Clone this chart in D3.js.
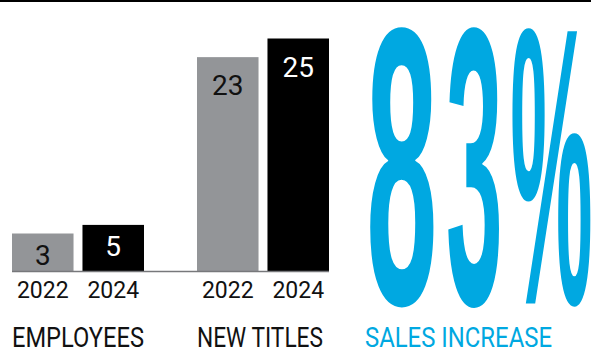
<!DOCTYPE html>
<html><head><meta charset="utf-8">
<script src="https://cdn.jsdelivr.net/npm/d3@7/dist/d3.min.js"></script>
<style>body{margin:0;background:#fff}svg{display:block}</style>
</head><body>
<svg id="c" width="600" height="360"></svg>
<script>
const categories = ["EMPLOYEES", "NEW TITLES"];
const years = ["2022", "2024"];
const employees = [3, 5];
const newTitles = [23, 25];
const salesIncrease = "83%";
const salesLabel = "SALES INCREASE";

const svg = d3.select("#c");
const FONT = "'Liberation Sans Narrow', 'Roboto', 'Liberation Sans', sans-serif";
const GRAY = "#939598", CYAN = "#00a8e1";

svg.append("line").attr("x1", 0).attr("x2", 591).attr("y1", 1).attr("y2", 1)
  .attr("stroke", "#000").attr("stroke-width", 2);

const series = [employees, newTitles];
const x0 = d3.scaleBand().domain(categories).range([12, 329]).paddingInner(0.2865);
const x1 = d3.scaleBand().domain(years).range([0, x0.bandwidth()]).paddingInner(0.127);
const baseY = 271.5;
const y = d3.scaleLinear().domain([0, 25]).range([baseY, 38.5]);
const MIN_H = 38; // minimum bar height so the value label fits
const barTop = v => Math.min(y(v), baseY - MIN_H);

const g = svg.append("g").selectAll("g").data(categories).join("g")
  .attr("transform", d => `translate(${x0(d)},0)`);

g.each(function(cat, ci) {
  const grp = d3.select(this);
  const vals = series[ci].map((v, i) => ({year: years[i], v}));
  grp.selectAll("rect").data(vals).join("rect")
    .attr("x", d => x1(d.year)).attr("width", x1.bandwidth())
    .attr("y", d => barTop(d.v)).attr("height", d => baseY - barTop(d.v))
    .attr("fill", (d, i) => i === 0 ? GRAY : "#000");
  grp.selectAll("text.val").data(vals).join("text").attr("class", "val")
    .attr("x", d => x1(d.year) + x1.bandwidth() / 2)
    .attr("y", d => barTop(d.v) + (d.v > 10 ? 38 : 31))
    .attr("text-anchor", "middle").attr("font-family", FONT).attr("font-size", 28)
    .attr("fill", (d, i) => i === 0 ? "#111" : "#fff").text(d => d.v);
  const ax = grp.append("g").attr("transform", `translate(0,${baseY})`)
    .call(d3.axisBottom(x1).tickSize(0).tickPadding(10));
  ax.select(".domain").remove();
  ax.selectAll("text").attr("font-family", FONT).attr("font-size", 23)
    .attr("fill", "#111").attr("dy", "0.71em");
  grp.append("text").attr("x", 0).attr("y", 346.5)
    .attr("font-family", FONT).attr("font-size", 28).attr("fill", "#111")
    .attr("textLength", cat === "EMPLOYEES" ? 132 : 126).attr("lengthAdjust", "spacingAndGlyphs")
    .text(cat);
});

svg.append("line").attr("x1", 12).attr("x2", 329).attr("y1", baseY).attr("y2", baseY)
  .attr("stroke", "#77787b").attr("stroke-width", 1.5);

// Big stylized figure, each glyph fitted to its box
const boxes = [[370, 434], [448, 499], [512, 591]];
const topY = 26.5, botY = 307.5;
const ctx = document.createElement("canvas").getContext("2d");
ctx.font = "bold 100px 'Liberation Sans Narrow', 'Liberation Sans', sans-serif";
const bigG = svg.append("g").attr("fill", CYAN);
salesIncrease.split("").forEach((ch, i) => {
  const m = ctx.measureText(ch);
  const inkL = -m.actualBoundingBoxLeft, inkR = m.actualBoundingBoxRight;
  const inkT = -m.actualBoundingBoxAscent, inkB = m.actualBoundingBoxDescent;
  const sx = (boxes[i][1] - boxes[i][0]) / (inkR - inkL);
  const sy = (botY - topY) / (inkB - inkT);
  bigG.append("text")
    .attr("transform", `translate(${boxes[i][0] - inkL * sx},${botY - inkB * sy}) scale(${sx},${sy})`)
    .attr("font-family", "'Liberation Sans Narrow', 'Liberation Sans', sans-serif")
    .attr("font-weight", "bold").attr("font-size", 100).text(ch);
});

svg.append("text").attr("x", 365).attr("y", 347)
  .attr("font-family", FONT).attr("font-size", 28).attr("fill", CYAN)
  .attr("textLength", 187).attr("lengthAdjust", "spacingAndGlyphs").text(salesLabel);
</script>
</body></html>
